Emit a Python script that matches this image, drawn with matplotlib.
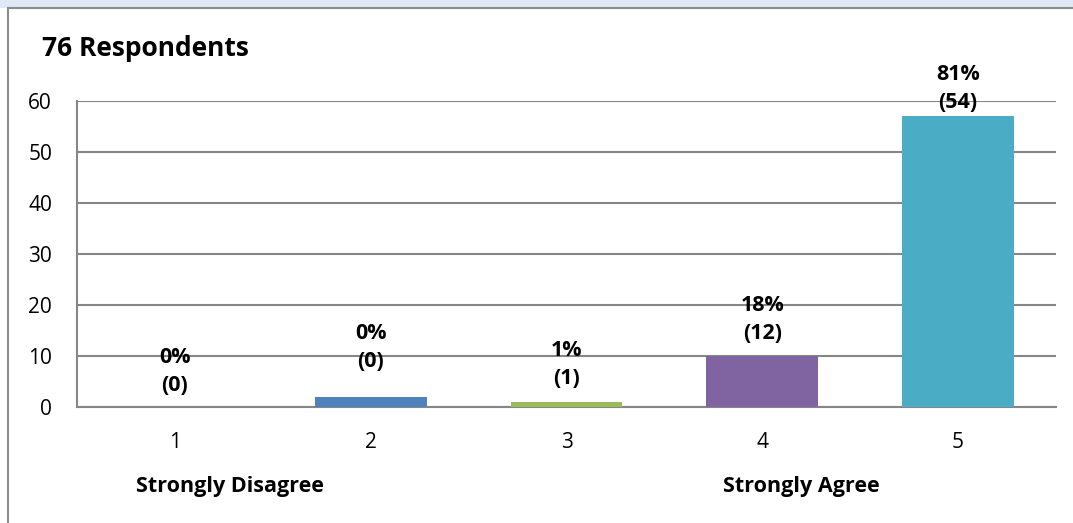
import matplotlib.pyplot as plt
from matplotlib.patches import Rectangle

categories = ["1", "2", "3", "4", "5"]
counts = [0, 2, 1, 10, 57]
labels = ["0%\n(0)", "0%\n(0)", "1%\n(1)", "18%\n(12)", "81%\n(54)"]
label_y = [2.2, 6.8, 3.5, 12.3, 57.6]
colors = ["#c0504d", "#4f81bd", "#9bbb59", "#8064a2", "#4bacc6"]
yticks = [0, 10, 20, 30, 40, 50, 60]
title = "76 Respondents"
end_labels = ["Strongly Disagree", "Strongly Agree"]

plt.rcParams["font.family"] = ["Open Sans", "DejaVu Sans"]

W, H = 1073, 523
fig = plt.figure(figsize=(W / 100, H / 100), dpi=100)
fig.patch.set_facecolor("white")

# light blue band and frame edges
fig.patches.append(Rectangle((0, 1 - 8 / H), 1, 8 / H, transform=fig.transFigure,
                             facecolor="#dfe8f6", edgecolor="none", zorder=0))
fig.add_artist(plt.Line2D([8 / W, 1], [1 - 8 / H, 1 - 8 / H], color="#8c8c8c", lw=1.5))
fig.add_artist(plt.Line2D([8 / W, 8 / W], [0, 1 - 8 / H], color="#8c8c8c", lw=1.5))

ax = fig.add_axes([77 / W, 1 - 407 / H, (1056 - 77) / W, (407 - 101) / H])
x = list(range(len(categories)))
ax.bar(x, counts, width=0.57, color=colors, zorder=3)
ax.set_xlim(-0.5, 4.5)
ax.set_ylim(0, 60)
ax.set_yticks(yticks)
ax.set_xticks(x, labels=categories)
ax.tick_params(axis="both", length=0, labelsize=15, colors="black")
ax.tick_params(axis="y", pad=18)
ax.tick_params(axis="x", pad=18)
ax.yaxis.grid(True, color="#868686", lw=1.5, zorder=1)
for side in ["top", "right"]:
    ax.spines[side].set_visible(False)
for side in ["left", "bottom"]:
    ax.spines[side].set_color("#868686")
    ax.spines[side].set_linewidth(1.5)

for xi, txt, yy in zip(x, labels, label_y):
    ax.text(xi, yy, txt, ha="center", va="bottom", fontsize=15.5, fontweight="bold",
            linespacing=1.45, zorder=4)

ax.text(0.28, -15.5, end_labels[0], ha="center", va="center", fontsize=15.5, fontweight="bold")
ax.text(3.2, -15.5, end_labels[1], ha="center", va="center", fontsize=15.5, fontweight="bold")

fig.text(42 / W, 1 - 48 / H, title, ha="left", va="center", fontsize=19, fontweight="bold")

fig.savefig("out.png", dpi=100)
